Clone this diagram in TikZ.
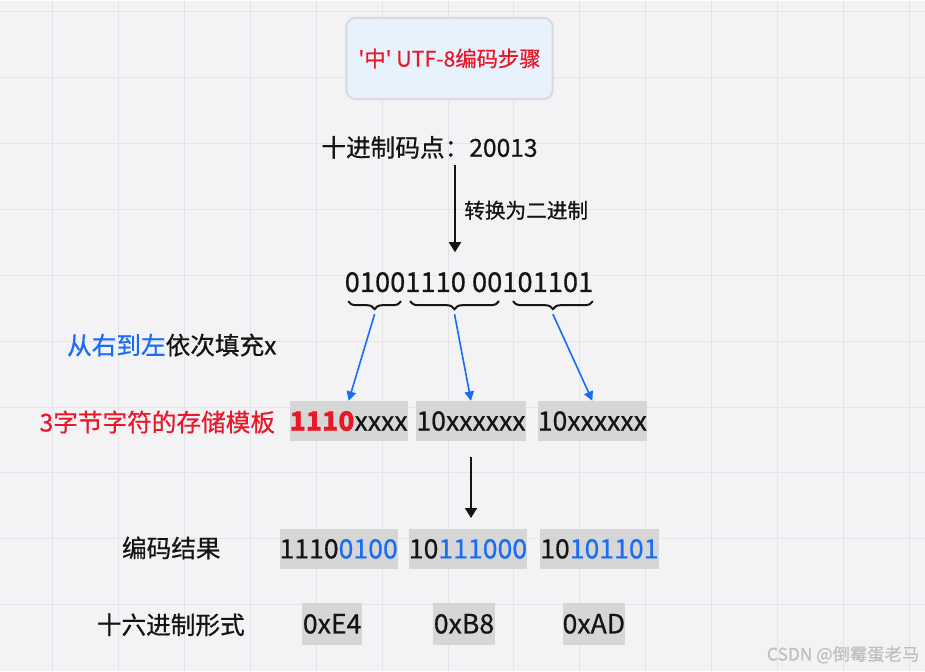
\documentclass[tikz,border=0pt]{standalone}
\usepackage{fontspec}
\usetikzlibrary{arrows.meta,decorations.pathreplacing}
\newfontfamily\cjkfont{Noto Sans CJK SC}[FakeBold=0.6]
\definecolor{UTFRed}{RGB}{232,24,40}
\definecolor{UTFBlue}{RGB}{24,108,248}
\definecolor{UTFInk}{RGB}{20,20,20}
\definecolor{UTFCell}{RGB}{214,214,214}
\definecolor{UTFBack}{RGB}{243,243,246}
\definecolor{UTFGrid}{RGB}{229,229,233}
\definecolor{UTFTitle}{RGB}{232,242,253}
\definecolor{UTFEdge}{RGB}{218,218,222}
\tikzset{
  tbox/.style={draw=UTFEdge,fill=UTFTitle,line width=1.5pt,rounded corners=7pt,minimum width=155pt,minimum height=61pt,text=UTFRed,font=\cjkfont\fontsize{16}{19}\selectfont},
  lbl/.style={inner sep=0pt,text=UTFInk,font=\cjkfont\fontsize{18.5}{22}\selectfont},
  bits/.style={inner sep=0pt,text=UTFInk,font=\cjkfont\fontsize{20.5}{24}\selectfont},
  cell/.style={bits,font=\cjkfont\fontsize{20}{24}\selectfont,fill=UTFCell,minimum height=30pt},
  arr/.style={-{Triangle[length=7.5pt,width=9pt]},UTFInk,line width=1.4pt},
  barr/.style={-{Triangle[length=7pt,width=7pt]},UTFBlue,line width=1.2pt},
  brc/.style={decorate,decoration={brace,mirror,amplitude=6pt},UTFInk,line width=1.5pt},
}
\begin{document}
\begin{tikzpicture}[x=0.75pt,y=-0.75pt]
  % background grid
  \fill[UTFBack] (0,0) rectangle (925,671);
  \foreach \gx in {52,118,...,910} \draw[UTFGrid,line width=0.75pt] (\gx,0) -- (\gx,671);
  \foreach \gy in {11,77,...,605} \draw[UTFGrid,line width=0.75pt] (0,\gy) -- (925,\gy);
  % title and code point
  \node[tbox] (title) at (449.5,58) {'中' UTF-8编码步骤};
  \node[lbl] (dec) at (429.5,147) {十进制码点：20013};
  \node[bits] (bin) at (469,282) {01001110 00101101};
  \coordinate (a1) at (455,165);
  \coordinate (a2) at (455,252);
  \draw[arr] (a1) -- (a2);
  \node[lbl,font=\cjkfont\fontsize{15.5}{18}\selectfont,anchor=west] (conv) at (464,210) {转换为二进制};
  % braces under the bits
  \draw[brc] (348,301) -- (401,301); \coordinate (k1) at (374.5,314);
  \draw[brc] (410,301) -- (499,301); \coordinate (k2) at (454.5,314);
  \draw[brc] (513,301) -- (593,301); \coordinate (k3) at (553,314);
  % template
  \node[lbl] (fill) at (171.5,345) {\textcolor{UTFBlue}{从右到左}依次填充x};
  \node[lbl,text=UTFRed] (tpl) at (157,422) {3字节字符的存储模板};
  \node[cell,minimum width=85pt] (t1) at (348.5,421) {\textcolor{UTFRed}{\textbf{1110}}xxxx};
  \node[cell,minimum width=82.5pt] (t2) at (471,421) {10xxxxxx};
  \node[cell,minimum width=82pt] (t3) at (592.5,421) {10xxxxxx};
  \draw[barr] (k1) -- (t1.north);
  \draw[barr] (k2) -- (t2.north);
  \draw[barr] (k3) -- (t3.north);
  % result
  \node[lbl] (res) at (171,548) {编码结果};
  \node[cell,minimum width=88pt] (r1) at (338.5,549) {1110\textcolor{UTFBlue}{0100}};
  \node[cell,minimum width=87pt] (r2) at (468,549) {10\textcolor{UTFBlue}{111000}};
  \node[cell,minimum width=89pt] (r3) at (599.5,549) {10\textcolor{UTFBlue}{101101}};
  \draw[arr] ([yshift=-12pt]t2.south) -- ([yshift=8pt]t2.south |- r2.north);
  % hex form
  \node[lbl] (hexl) at (170.5,625) {十六进制形式};
  \node[cell,minimum width=45pt,minimum height=31.5pt] (h1) at (332,624) {0xE4};
  \node[cell,minimum width=46.5pt,minimum height=31.5pt] (h2) at (464,624) {0xB8};
  \node[cell,minimum width=43.5pt,minimum height=31.5pt] (h3) at (594,624) {0xAD};
  \node[inner sep=0pt,text=black!25,font=\cjkfont\fontsize{13}{15}\selectfont] (mark) at (843.5,655) {CSDN @倒霉蛋老马};
\end{tikzpicture}
\end{document}
